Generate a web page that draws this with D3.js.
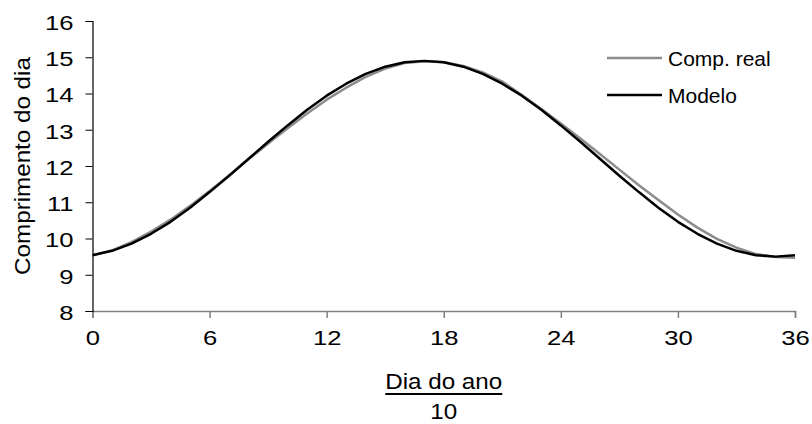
<!DOCTYPE html>
<html>
<head>
<meta charset="utf-8">
<script src="https://cdn.jsdelivr.net/npm/d3@7"></script>
<style>
  html, body { margin: 0; padding: 0; background: #fff; }
  svg { display: block; font-family: "Liberation Sans", Arial, sans-serif; }
</style>
</head>
<body>
<svg id="chart" width="812" height="424"></svg>
<script>
// Period index (days of the year divided by 10)
const periods = d3.range(0, 37);

// Measured day length (hours)
const compReal = [
  9.54, 9.67, 9.90, 10.19, 10.52, 10.90, 11.31, 11.74, 12.19, 12.62,
  13.04, 13.45, 13.83, 14.16, 14.46, 14.69, 14.84, 14.89, 14.86, 14.76,
  14.58, 14.33, 13.96, 13.57, 13.17, 12.76, 12.33, 11.90, 11.47, 11.06,
  10.66, 10.30, 9.99, 9.75, 9.57, 9.49, 9.47
];

// Fitted model (hours)
const modelo = [
  9.54, 9.66, 9.86, 10.13, 10.46, 10.85, 11.28, 11.73, 12.20, 12.67,
  13.12, 13.55, 13.94, 14.27, 14.54, 14.74, 14.86, 14.90, 14.86, 14.74,
  14.54, 14.27, 13.94, 13.55, 13.12, 12.67, 12.20, 11.73, 11.28, 10.85,
  10.46, 10.13, 9.86, 9.66, 9.54, 9.50, 9.54
];

const xTicks = [0, 6, 12, 18, 24, 30, 36];
const yTicks = [8, 9, 10, 11, 12, 13, 14, 15, 16];

const seriesNames = ["Comp. real", "Modelo"];
const seriesColors = ["#8c8c8c", "#000000"];

const svg = d3.select("#chart");
const tickFont = 21;
const titleFont = 22;
const legendFont = 21;
// glyphs are drawn slightly wide
const tickStretch = 1.22;
const titleStretch = 1.1;

// widen a text horizontally while keeping its anchor point in place
function widen(sel, sx) {
  sel.each(function () {
    const t = d3.select(this);
    const xv = +t.attr("x") || 0;
    t.attr("x", xv / sx).attr("transform", `scale(${sx},1)`);
  });
}

const x = d3.scaleLinear().domain([0, 36]).range([92.5, 795]);
const y = d3.scaleLinear().domain([8, 16]).range([311, 21]);

// X axis
const xAxis = svg.append("g")
  .attr("transform", `translate(0,${y(8)})`)
  .call(d3.axisBottom(x).tickValues(xTicks).tickSize(7).tickPadding(12).tickFormat(d3.format("d")));
xAxis.select(".domain").attr("stroke", "#808080").attr("stroke-width", 1.5);
xAxis.selectAll(".tick line").attr("stroke", "#808080").attr("stroke-width", 1.5);
xAxis.selectAll(".tick text").attr("font-size", tickFont).attr("fill", "#000")
  .attr("font-family", "Liberation Sans, Arial, sans-serif")
  .call(widen, tickStretch);

// Y axis
const yAxis = svg.append("g")
  .attr("transform", `translate(${x(0)},0)`)
  .call(d3.axisLeft(y).tickValues(yTicks).tickSize(7).tickPadding(12).tickFormat(d3.format("d")));
yAxis.select(".domain").attr("stroke", "#000").attr("stroke-width", 1.2);
yAxis.selectAll(".tick line").attr("stroke", "#000").attr("stroke-width", 1);
yAxis.selectAll(".tick text").attr("font-size", tickFont).attr("fill", "#000")
  .attr("dy", "0.4em")
  .attr("font-family", "Liberation Sans, Arial, sans-serif")
  .call(widen, tickStretch);

// Lines
const line = d3.line().x((d, i) => x(periods[i])).y(d => y(d));
[compReal, modelo].forEach((vals, k) => {
  svg.append("path")
    .datum(vals)
    .attr("fill", "none")
    .attr("stroke", seriesColors[k])
    .attr("stroke-width", 2.5)
    .attr("stroke-linejoin", "round")
    .attr("d", line);
});

// Legend
const legend = svg.append("g");
seriesNames.forEach((name, k) => {
  const ly = 58 + k * 37;
  legend.append("line")
    .attr("x1", 607).attr("x2", 662).attr("y1", ly).attr("y2", ly)
    .attr("stroke", seriesColors[k]).attr("stroke-width", 2.5);
  legend.append("text")
    .attr("x", 668).attr("y", ly).attr("dy", "0.36em")
    .attr("font-size", legendFont).text(name);
});

// Y axis title
svg.append("text")
  .attr("transform", `translate(30,${(y(8) + y(16)) / 2}) rotate(-90) scale(${titleStretch},1)`)
  .attr("text-anchor", "middle")
  .attr("font-size", titleFont)
  .text("Comprimento do dia");

// X axis title as a fraction: Dia do ano / 10
const cx = (x(0) + x(36)) / 2;
const num = svg.append("text")
  .attr("x", cx).attr("y", 389)
  .attr("text-anchor", "middle")
  .attr("font-size", titleFont)
  .text("Dia do ano")
  .call(widen, titleStretch);
const bw = num.node().getComputedTextLength() * titleStretch;
svg.append("line")
  .attr("x1", cx - bw / 2).attr("x2", cx + bw / 2)
  .attr("y1", 394).attr("y2", 394)
  .attr("stroke", "#000").attr("stroke-width", 2);
svg.append("text")
  .attr("x", cx).attr("y", 419)
  .attr("text-anchor", "middle")
  .attr("font-size", titleFont)
  .text("10")
  .call(widen, titleStretch);
</script>
</body>
</html>
